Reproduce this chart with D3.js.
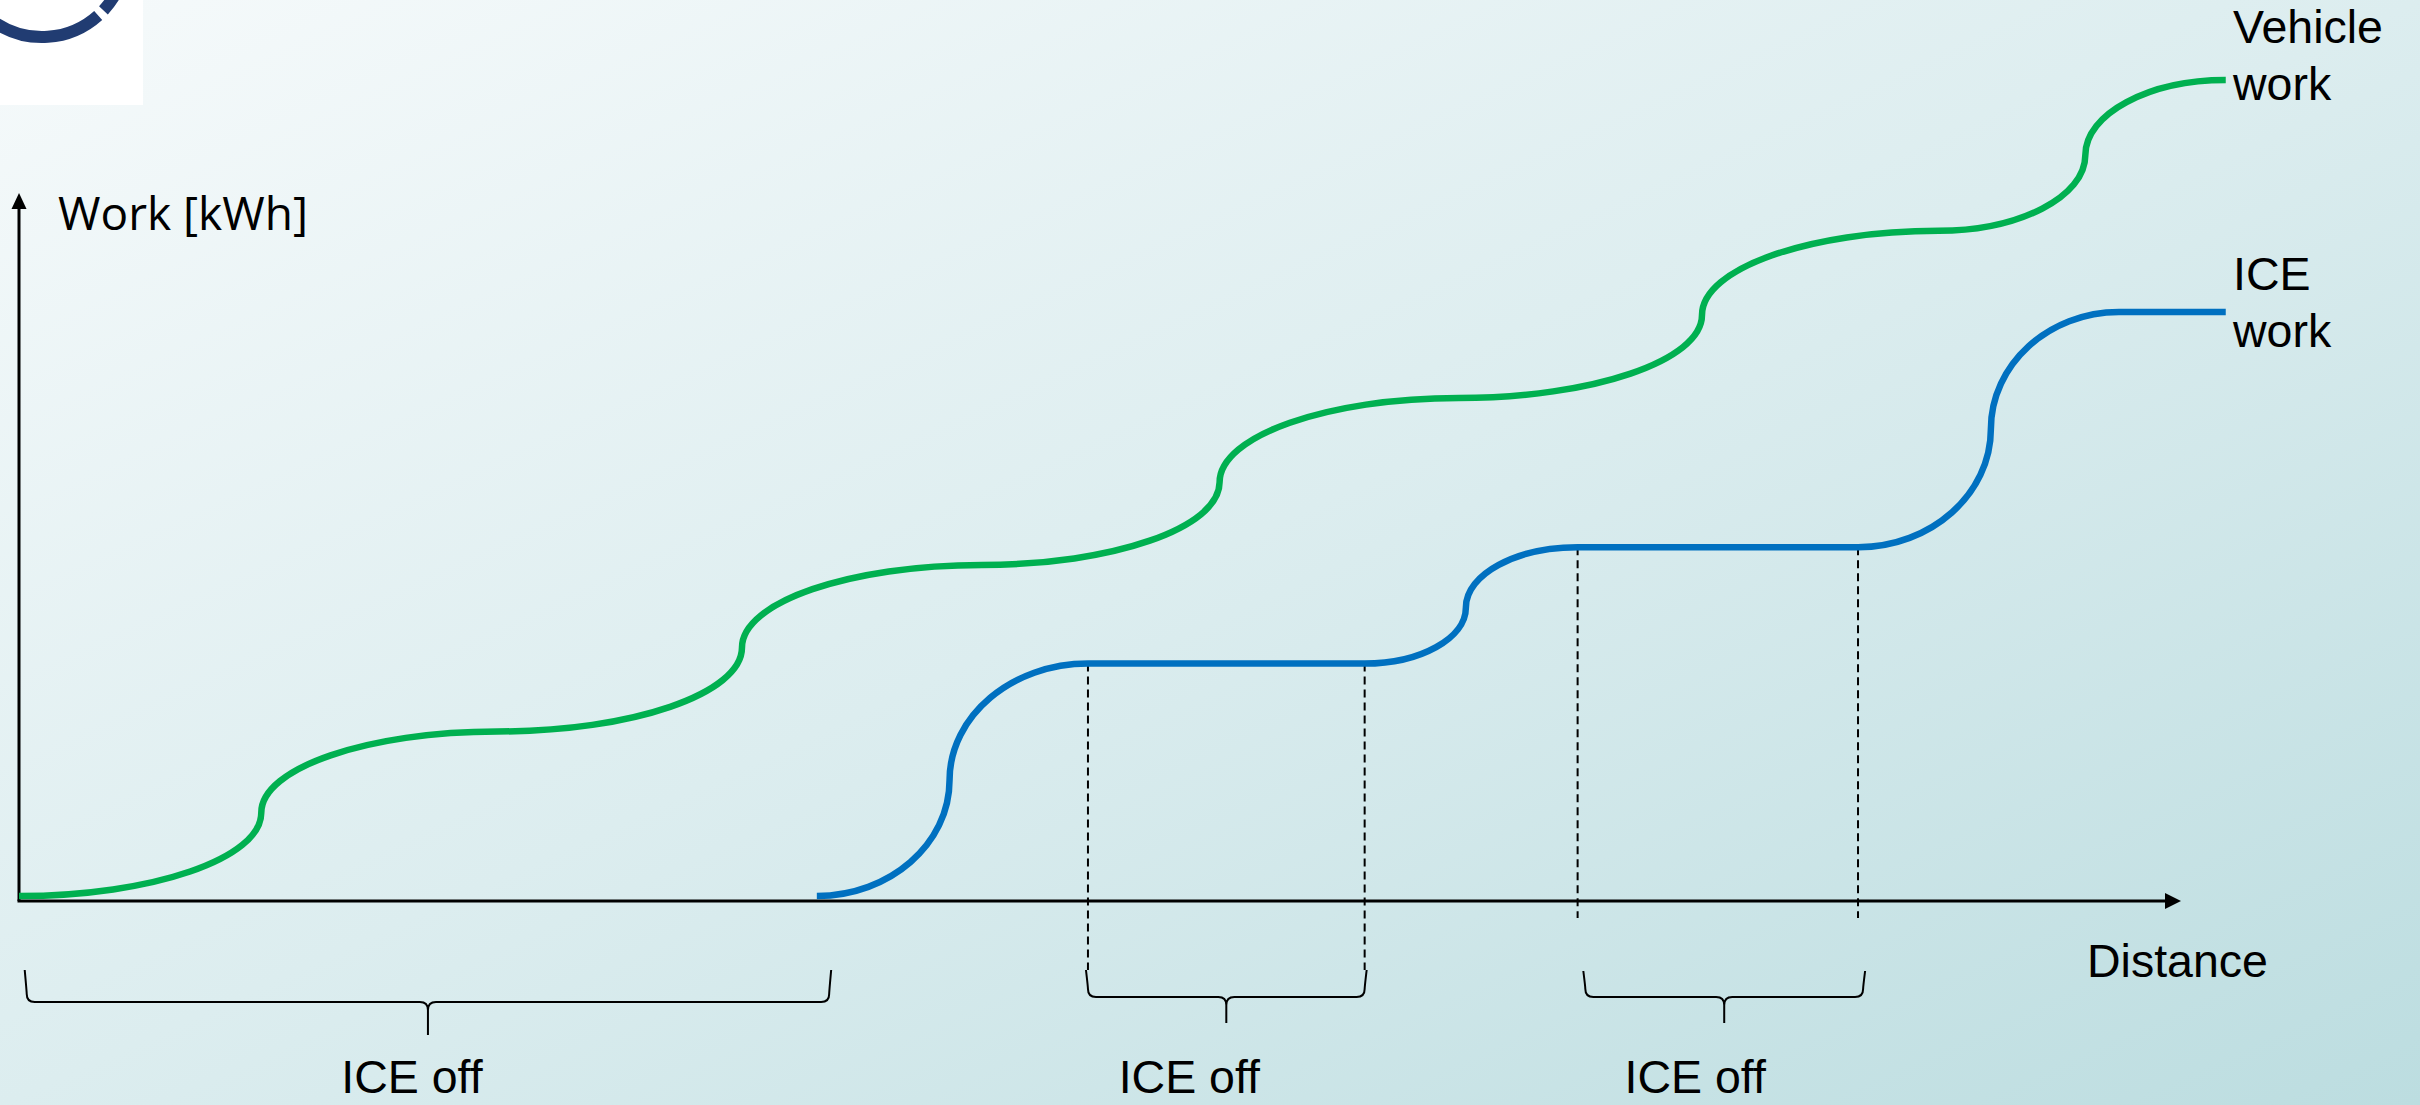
<!DOCTYPE html>
<html>
<head>
<meta charset="utf-8">
<script src="https://cdn.jsdelivr.net/npm/d3@7"></script>
<style>
  html, body { margin: 0; padding: 0; overflow: hidden; }
  svg { display: block; }
</style>
</head>
<body>
<div id="chart"></div>
<script>
// distance / work knots (arbitrary units)
// tangent: 'h' = curve is flat at the knot, 'v' = curve is vertical at the knot
const vehicleDist = [0, 157, 310, 468.5, 624, 778, 933, 1090.6, 1244, 1339, 1430];
const vehicleWork = [0, 54, 106.6, 161, 214.5, 268, 322.7, 376.4, 431, 480, 528.7];
const vehicleTangent = ['h', 'v', 'h', 'v', 'h', 'v', 'h', 'v', 'h', 'v', 'h'];

const iceDist = [517, 603, 692.7, 872, 937.6, 1010, 1191.7, 1277.8, 1360.8, 1430];
const iceWork = [0, 75, 150.6, 150.6, 187, 226, 226, 302.6, 378.4, 378.4];
const iceTangent = ['h', 'v', 'h', 'h', 'v', 'h', 'h', 'v', 'h', 'h'];

// ICE off stretches (brace spans)
const iceOffFrom = [5, 692.7, 1015];
const iceOffTo = [525, 872, 1195];
const iceOffLabels = ['ICE off', 'ICE off', 'ICE off'];

const seriesNames = [['Vehicle', 'work'], ['ICE', 'work']];
const axisLabels = { y: 'Work [kWh]', x: 'Distance' };

const width = 2420;
const height = 1105;

const x = d3.scaleLinear().domain([0, 1401]).range([19, 2181]);
const y = d3.scaleLinear().domain([0, 530]).range([896, 78]);

const svg = d3.select("#chart")
  .append("svg")
    .attr("width", width)
    .attr("height", height)
    .attr("viewBox", [0, 0, width, height]);

// background
const defs = svg.append("defs");
const grad = defs.append("linearGradient")
  .attr("id", "bg")
  .attr("x1", 0).attr("y1", 0).attr("x2", 1).attr("y2", 1);
grad.append("stop").attr("offset", 0).attr("stop-color", "#f6fafb");
grad.append("stop").attr("offset", 0.5).attr("stop-color", "#dcedef");
grad.append("stop").attr("offset", 1).attr("stop-color", "#bcdde0");

svg.append("rect")
  .attr("width", width)
  .attr("height", height)
  .attr("fill", "url(#bg)");

// logo fragment top-left
defs.append("clipPath").attr("id", "logoclip")
  .append("rect").attr("width", 143).attr("height", 105);
const logo = svg.append("g").attr("clip-path", "url(#logoclip)");
logo.append("rect").attr("width", 143).attr("height", 105).attr("fill", "#ffffff");
const arcPath = (cx, cy, r, a0, a1) => {
  const p = d3.path();
  p.arc(cx, cy, r, a0 * Math.PI / 180, a1 * Math.PI / 180);
  return p.toString();
};
logo.append("path")
  .attr("d", arcPath(42, -47, 84, 48, 200))
  .attr("fill", "none").attr("stroke", "#213c72").attr("stroke-width", 12);
logo.append("path")
  .attr("d", arcPath(42, -47, 84, -10, 43))
  .attr("fill", "none").attr("stroke", "#213c72").attr("stroke-width", 12);

// curves
const k = 0.55;
function buildPath(dist, work, tan) {
  const p = d3.path();
  p.moveTo(x(dist[0]), y(work[0]));
  for (let i = 1; i < dist.length; i++) {
    const x0 = x(dist[i - 1]), y0 = y(work[i - 1]);
    const x1 = x(dist[i]), y1 = y(work[i]);
    if (work[i] === work[i - 1]) {
      p.lineTo(x1, y1);
    } else if (tan[i - 1] === 'h') {
      p.bezierCurveTo(x0 + k * (x1 - x0), y0, x1, y1 + k * (y0 - y1), x1, y1);
    } else {
      p.bezierCurveTo(x0, y0 - k * (y0 - y1), x1 - k * (x1 - x0), y1, x1, y1);
    }
  }
  return p.toString();
}

// dashed markers at the ends of the flat ICE stretches
const flats = [];
for (let i = 1; i < iceDist.length - 1; i++) {
  if (iceWork[i] === iceWork[i - 1]) {
    flats.push({ d: iceDist[i - 1], w: iceWork[i] });
    flats.push({ d: iceDist[i], w: iceWork[i] });
  }
}
const dashBottom = [970, 970, 918, 918];

svg.append("g")
  .attr("stroke", "#000")
  .attr("stroke-width", 2)
  .attr("stroke-dasharray", "8,5")
  .selectAll("line")
  .data(flats)
  .join("line")
    .attr("x1", d => x(d.d))
    .attr("x2", d => x(d.d))
    .attr("y1", d => y(d.w))
    .attr("y2", (d, i) => dashBottom[i]);

// axes
const axisY = y(0) + 5;
const axes = svg.append("g").attr("stroke", "#000").attr("stroke-width", 3);
axes.append("line")
  .attr("x1", x(0)).attr("x2", x(0))
  .attr("y1", axisY).attr("y2", 205);
axes.append("line")
  .attr("x1", x(0) - 1.5).attr("x2", x(1401) - 12)
  .attr("y1", axisY).attr("y2", axisY);
svg.append("path")
  .attr("d", `M${x(0)},193 L${x(0) - 7.5},209 L${x(0) + 7.5},209 Z`)
  .attr("fill", "#000");
svg.append("path")
  .attr("d", `M${x(1401)},${axisY} L${x(1401) - 16},${axisY - 8} L${x(1401) - 16},${axisY + 8} Z`)
  .attr("fill", "#000");

svg.append("path")
  .attr("d", buildPath(vehicleDist, vehicleWork, vehicleTangent))
  .attr("fill", "none")
  .attr("stroke", "#00b050")
  .attr("stroke-width", 6.5);

svg.append("path")
  .attr("d", buildPath(iceDist, iceWork, iceTangent))
  .attr("fill", "none")
  .attr("stroke", "#0070c0")
  .attr("stroke-width", 6.5);

// braces
const braceGeom = [
  { top: 970, mid: 1002, tip: 1035, labelDx: -16 },
  { top: 970, mid: 997, tip: 1023, labelDx: -37 },
  { top: 971, mid: 997, tip: 1023, labelDx: -29 }
];
function bracePath(x0, x1, g) {
  const p = d3.path();
  const xm = (x0 + x1) / 2, r = 8;
  p.moveTo(x0 - 2, g.top);
  p.quadraticCurveTo(x0, g.mid - 10, x0, g.mid - r);
  p.quadraticCurveTo(x0, g.mid, x0 + r, g.mid);
  p.lineTo(xm - r, g.mid);
  p.quadraticCurveTo(xm, g.mid, xm, g.mid + r);
  p.lineTo(xm, g.tip);
  p.moveTo(xm, g.mid + r);
  p.quadraticCurveTo(xm, g.mid, xm + r, g.mid);
  p.lineTo(x1 - r, g.mid);
  p.quadraticCurveTo(x1, g.mid, x1, g.mid - r);
  p.quadraticCurveTo(x1, g.mid - 10, x1 + 2, g.top);
  return p.toString();
}
svg.append("g")
  .selectAll("path")
  .data(iceOffFrom)
  .join("path")
    .attr("d", (d, i) => bracePath(x(d), x(iceOffTo[i]), braceGeom[i]))
    .attr("fill", "none")
    .attr("stroke", "#000")
    .attr("stroke-width", 2);

const font = "'Liberation Sans', Arial, sans-serif";
svg.append("g")
  .attr("font-family", font)
  .attr("font-size", 46.5)
  .attr("fill", "#000")
  .attr("text-anchor", "middle")
  .selectAll("text")
  .data(iceOffLabels)
  .join("text")
    .attr("x", (d, i) => x((iceOffFrom[i] + iceOffTo[i]) / 2) + braceGeom[i].labelDx)
    .attr("y", 1093)
    .text(d => d);

// series labels
const labelPos = [
  { x: 2233, y: [43, 100] },
  { x: 2233, y: [290, 347] }
];
seriesNames.forEach((lines, i) => {
  const t = svg.append("text")
    .attr("font-family", font)
    .attr("font-size", 46.5)
    .attr("fill", "#000");
  lines.forEach((s, j) => {
    t.append("tspan").attr("x", labelPos[i].x).attr("y", labelPos[i].y[j]).text(s);
  });
});

// axis labels
svg.append("text")
  .attr("x", 2087).attr("y", 977)
  .attr("font-family", font)
  .attr("font-size", 46.5)
  .text(axisLabels.x);

svg.append("text")
  .attr("x", 58).attr("y", 230)
  .attr("font-family", "'Open Sans', 'Noto Sans', sans-serif")
  .attr("font-size", 46)
  .text(axisLabels.y);
</script>
</body>
</html>
